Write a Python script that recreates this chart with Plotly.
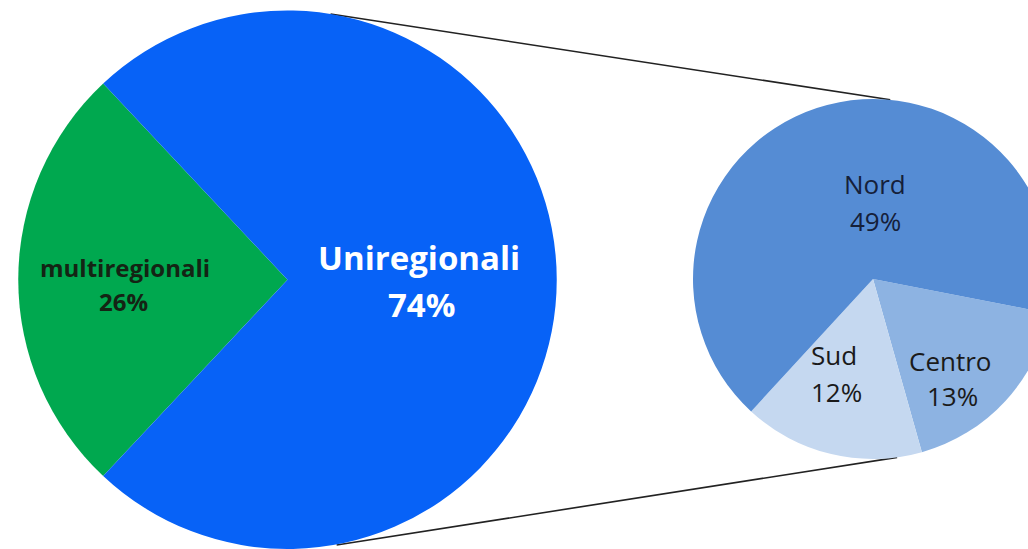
import math
import plotly.graph_objects as go

# ---- data ----
main_labels = ["multiregionali", "Uniregionali"]
main_values = [26, 74]
sub_labels = ["Centro", "Sud", "Nord"]
sub_values = [13, 12, 49]

# ---- layout constants (pixels) ----
H = 549
FIG_W = 1060                      # small pie runs past the right edge, as in the reference
BIG_CX, BIG_CY, BIG_R = 287.5, 280, 269.5
SM_CX, SM_CY, SM_R = 873, 279, 180

# label placement (pixel centres of name line and percent line)
main_lbl_pos = [((125, 267), (123, 301)), ((419, 257), (421, 304))]
sub_lbl_pos = [((950, 361), (952, 396)), ((834, 355), (836, 392)), ((875, 184), (875, 221))]


def dom(cx, cy, r):
    return dict(x=[max(0.0, (cx - r) / FIG_W), min(1.0, (cx + r) / FIG_W)],
                y=[max(0.0, (H - cy - r) / H), min(1.0, (H - cy + r) / H)])


# green slice centred at 9 o'clock
big_rot = 270 - main_values[0] / sum(main_values) * 360 / 2

fig = go.Figure()
fig.add_trace(go.Pie(
    labels=main_labels, values=main_values, sort=False, direction="clockwise",
    rotation=big_rot, domain=dom(BIG_CX, BIG_CY, BIG_R),
    marker=dict(colors=["#00A84F", "#0762F7"], line=dict(width=0)),
    textinfo="none", hoverinfo="label+percent", showlegend=False,
))
fig.add_trace(go.Pie(
    labels=sub_labels, values=sub_values, sort=False, direction="clockwise",
    rotation=101, domain=dom(SM_CX, SM_CY, SM_R),
    marker=dict(colors=["#8DB3E2", "#C5D8F0", "#558CD4"], line=dict(width=0)),
    textinfo="none", hoverinfo="label", showlegend=False,
))


def add_label(name, val, pos, size, color, weight):
    for txt, (px, py) in zip([name, f"{val}%"], pos):
        fig.add_annotation(x=px / FIG_W, y=(H - py) / H, xref="paper", yref="paper",
                           text=txt, showarrow=False, xanchor="center", yanchor="middle",
                           font=dict(family="Open Sans", size=size, color=color, weight=weight))


add_label(main_labels[0], main_values[0], main_lbl_pos[0], 24, "#142414", "bold")
add_label(main_labels[1], main_values[1], main_lbl_pos[1], 33, "#ffffff", "bold")
for lab, v, p, c in zip(sub_labels, sub_values, sub_lbl_pos, ["#1a1a1a", "#1a1a1a", "#15203a"]):
    add_label(lab, v, p, 26, c, "normal")


def pt(cx, cy, r, ang):
    a = math.radians(ang)
    return (cx + r * math.sin(a)) / FIG_W, (H - (cy - r * math.cos(a))) / H


for a1, a2 in [(9.2, 5.5), (169.5, 172.3)]:
    x0, y0 = pt(BIG_CX, BIG_CY, BIG_R, a1)
    x1, y1 = pt(SM_CX, SM_CY, SM_R, a2)
    fig.add_shape(type="line", xref="paper", yref="paper", x0=x0, y0=y0, x1=x1, y1=y1,
                  line=dict(color="#222222", width=1.6), layer="below")

fig.update_layout(
    width=FIG_W, height=H, margin=dict(l=0, r=0, t=0, b=0),
    paper_bgcolor="white", plot_bgcolor="white",
)

fig.write_html("out.html", config={"displayModeBar": False},
               post_script="document.body.style.margin='0';document.body.style.overflow='hidden';")
